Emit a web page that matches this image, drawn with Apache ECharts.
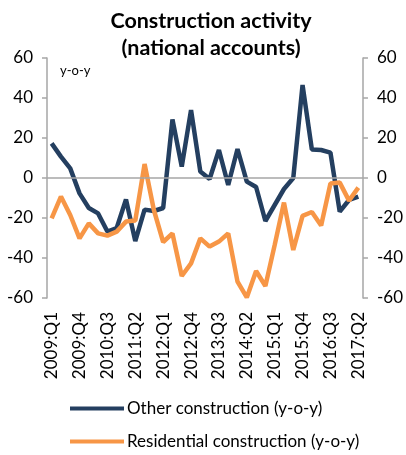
<!DOCTYPE html>
<html>
<head>
<meta charset="utf-8">
<script src="https://cdn.jsdelivr.net/npm/echarts@6/dist/echarts.min.js"></script>
<style>
  html, body { margin: 0; padding: 0; background: #fff; }
  #chart { width: 406px; height: 455px; }
</style>
</head>
<body>
<div id="chart"></div>
<script>
// quarters 2009:Q1 .. 2017:Q2
const quarters = []
for (let y = 2009; y <= 2017; y++) {
  for (let q = 1; q <= 4; q++) {
    if (y === 2017 && q > 2) break
    quarters.push(y + ':Q' + q)
  }
}

const otherConstruction = [
  17.3, 10.7, 4.8, -7.7, -15, -17.7, -26.8, -25, -10.7, -31.5,
  -15.8, -16.5, -15, 29.3, 5.7, 34, 3.2, -0.5, 14, -3.5,
  14.5, -1.8, -4.5, -21.5, -13.5, -5.5, 0, 46.5, 14.3, 14,
  12.7, -16.8, -11, -9.3
]
const residentialConstruction = [
  -20.2, -9.3, -18.5, -30.2, -22.7, -27.7, -28.8, -26.8, -21.8, -21.3,
  7, -16, -32, -27.7, -49, -42.7, -30.2, -34.3, -31.8, -27.7,
  -51.8, -59.7, -46.5, -54, -33.5, -12.3, -36, -18.9, -17, -23.8,
  -2.7, -2.3, -11.3, -4.8
]
const yTicks = [-60, -40, -20, 0, 20, 40, 60]

const font = 'Lato, "Noto Sans", sans-serif'
const grey = '#a6a6a6'
const chart = echarts.init(document.getElementById('chart'))

const yAxisBase = {
  type: 'value',
  min: yTicks[0],
  max: yTicks[yTicks.length - 1],
  interval: 20,
  splitLine: { show: false },
  axisLine: { show: true, lineStyle: { color: grey, width: 1.5 } },
  axisTick: { show: true, length: 5, lineStyle: { color: grey, width: 1.5 } },
  axisLabel: { color: '#000', fontSize: 17, fontFamily: font, margin: 14 }
}

const legendBase = {
  left: 70,
  padding: 0,
  itemWidth: 54,
  itemHeight: 4,
  icon: 'rect',
  textStyle: { fontSize: 17, fontFamily: font, color: '#000', padding: [0, 0, 0, -2] }
}

chart.setOption({
  animation: false,
  title: {
    text: 'Construction activity\n(national accounts)',
    left: 206,
    textAlign: 'center',
    top: 3,
    textStyle: { fontSize: 21.5, fontWeight: 'bold', fontFamily: font, color: '#000', lineHeight: 27 }
  },
  graphic: [{
    type: 'text',
    left: 60,
    top: 64,
    style: { text: 'y-o-y', fontSize: 13, fontFamily: font, fill: '#000' }
  }],
  legend: [
    Object.assign({}, legendBase, { top: 400, data: ['Other construction (y-o-y)'] }),
    Object.assign({}, legendBase, { top: 433, data: ['Residential construction (y-o-y)'] })
  ],
  grid: { left: 47, right: 42, top: 58, bottom: 157 },
  xAxis: {
    type: 'category',
    data: quarters,
    boundaryGap: true,
    axisLine: { show: false, onZero: false },
    axisTick: { show: false },
    axisLabel: {
      rotate: 90,
      interval: 2,
      margin: 14,
      fontSize: 17,
      fontFamily: font,
      color: '#000'
    }
  },
  yAxis: [
    Object.assign({}, yAxisBase, { position: 'left' }),
    Object.assign({}, yAxisBase, { position: 'right' })
  ],
  series: [
    {
      name: 'Other construction (y-o-y)',
      type: 'line',
      data: otherConstruction,
      symbol: 'none',
      z: 3,
      lineStyle: { color: '#243f60', width: 4.5 },
      itemStyle: { color: '#243f60' },
      markLine: {
        silent: true,
        symbol: 'none',
        label: { show: false },
        lineStyle: { color: grey, width: 1.5, type: 'solid' },
        data: [{ yAxis: 0 }]
      }
    },
    {
      name: 'Residential construction (y-o-y)',
      type: 'line',
      data: residentialConstruction,
      symbol: 'none',
      z: 4,
      lineStyle: { color: '#f79646', width: 4.5 },
      itemStyle: { color: '#f79646' }
    }
  ]
})
</script>
</body>
</html>
